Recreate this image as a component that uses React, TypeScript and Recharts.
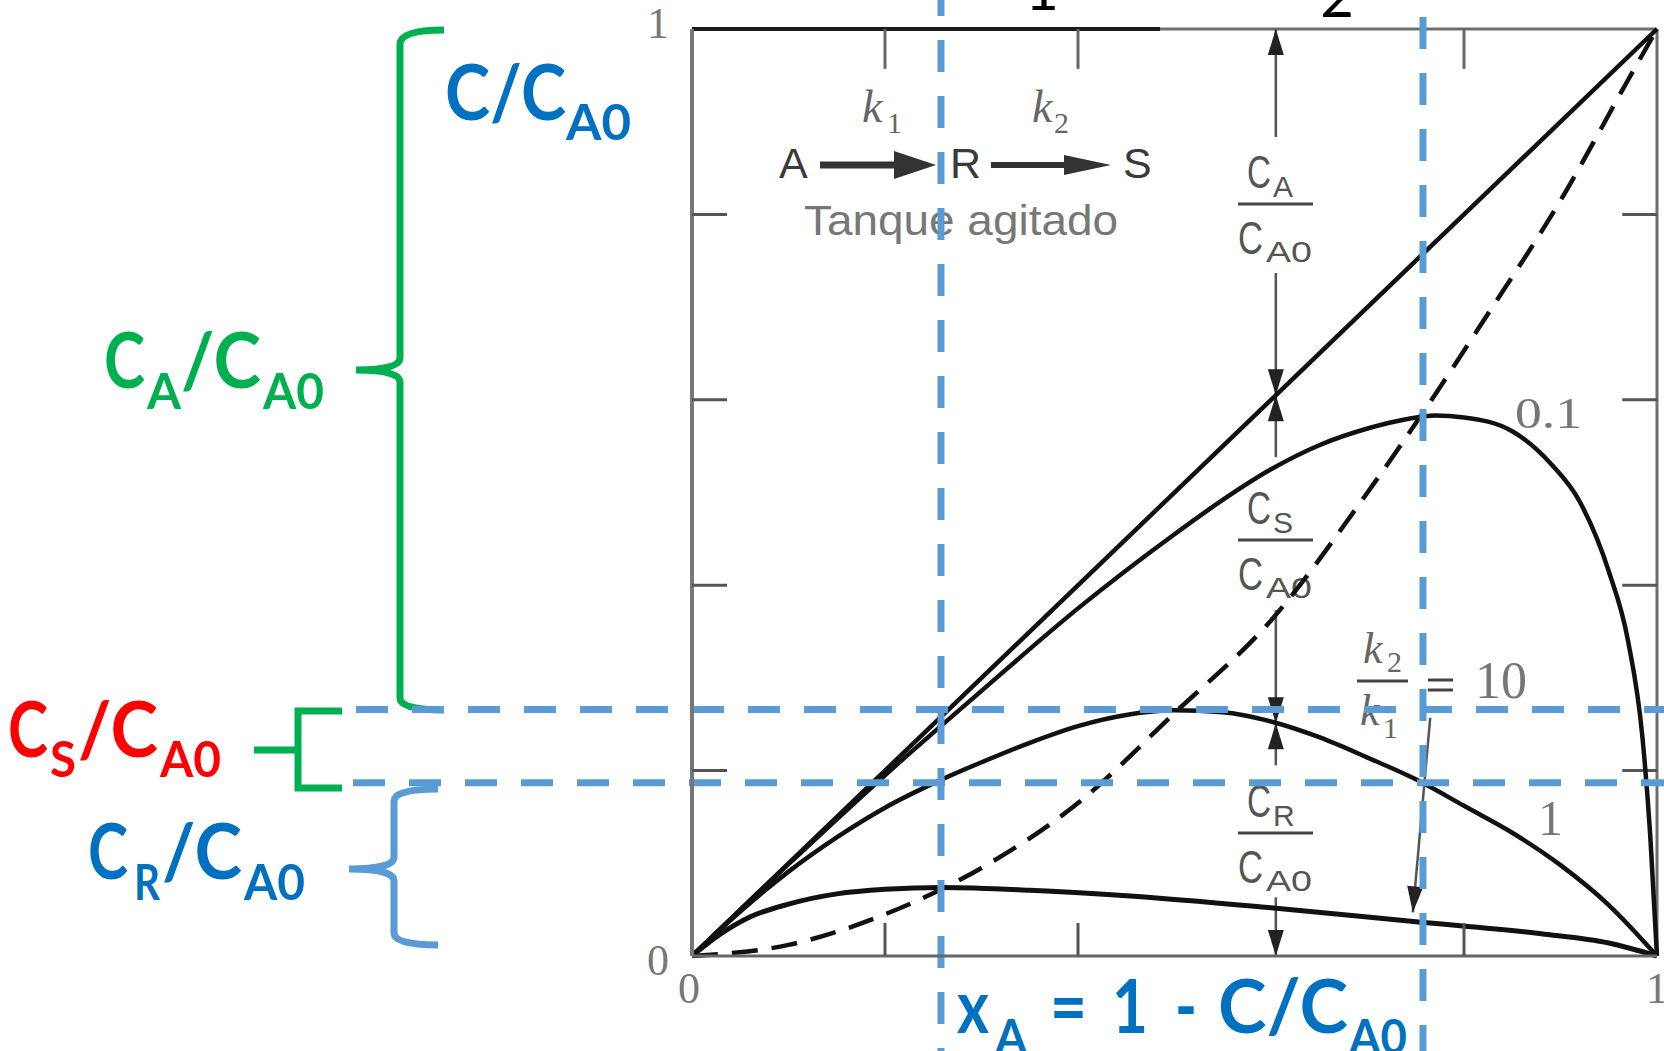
import React from "react";
import { LineChart, Line, XAxis, YAxis, ReferenceLine } from "recharts";

const W = 1664;
const H = 1051;

// Conversion X_A (x) against dimensionless concentration C/C_A0 (y)
const diagonalX = [0, 1];
const diagonalY = [0, 1];

// C_R/C_A0 for k2/k1 = 0.1
const ratio01X = [0, 0.1, 0.2, 0.3, 0.4, 0.5, 0.55, 0.6, 0.65, 0.7, 0.74, 0.77, 0.8, 0.85, 0.89, 0.92, 0.95, 0.97, 0.985, 0.993, 1];
const ratio01Y = [0, 0.099, 0.195, 0.286, 0.375, 0.455, 0.492, 0.525, 0.551, 0.569, 0.579, 0.583, 0.581, 0.566, 0.531, 0.49, 0.415, 0.34, 0.235, 0.13, 0];

// C_R/C_A0 for k2/k1 = 1
const ratio1X = [0, 0.05, 0.1, 0.15, 0.2, 0.258, 0.3, 0.35, 0.4, 0.45, 0.5, 0.55, 0.6, 0.65, 0.7, 0.757, 0.8, 0.85, 0.9, 0.95, 1];
const ratio1Y = [0, 0.048, 0.091, 0.128, 0.16, 0.19, 0.209, 0.23, 0.248, 0.26, 0.265, 0.263, 0.253, 0.236, 0.214, 0.187, 0.162, 0.133, 0.098, 0.055, 0];

// C_R/C_A0 for k2/k1 = 10
const ratio10X = [0, 0.03, 0.06, 0.1, 0.15, 0.2, 0.26, 0.35, 0.45, 0.6, 0.75, 0.88, 0.95, 1];
const ratio10Y = [0, 0.024, 0.042, 0.056, 0.067, 0.072, 0.074, 0.071, 0.065, 0.052, 0.037, 0.024, 0.014, 0];

// locus of the maxima (dashed)
const optimumX = [0, 0.1, 0.2, 0.3, 0.4, 0.5, 0.6, 0.7, 0.76, 0.82, 0.9, 0.97, 1];
const optimumY = [0, 0.012, 0.045, 0.095, 0.165, 0.262, 0.362, 0.5, 0.59, 0.685, 0.815, 0.945, 1];

const leftTicks = [0, 0.2, 0.4, 0.6, 0.8, 1];
const bottomTicks = [0, 0.2, 0.4, 0.8, 1];
const topTicks = [0.2, 0.4, 0.8];
const rightTicks = [0.2, 0.4, 0.6, 0.8];

// blue guide lines
const guideXs = [0.258, 0.7575];
const guideYs = [0.266, 0.187];

// dimension marks at X_A = 0.605: top, diagonal, k2/k1 = 1 curve, axis
const dimX = 0.605;
const dimLevels = [1, 0.605, 0.251, 0];

// pointer from the k2/k1 = 10 label to its curve
const pointerFrom = { x: 0.765, y: 0.257 };
const pointerTo = { x: 0.747, y: 0.047 };

const toPoints = (xs: number[], ys: number[]) => xs.map((x, i) => ({ x, y: ys[i] }));

const GRAY = "#6e6e6e";
const INK = "#111";
const GUIDE = "#5B9BD5";
const BLUE = "#0070C0";
const GREEN = "#00B050";
const RED = "#FF0000";

const serif = "'Liberation Serif', 'DejaVu Serif', serif";
const sans = "'Liberation Sans', Arial, sans-serif";
const bold = "Lato, 'Open Sans', sans-serif";

const LeftTick = (props: any) => {
  const { x, y, payload } = props;
  const v = payload.value;
  if (v === 0 || v === 1) {
    return (
      <text x={x - 34} y={v === 0 ? y + 19 : y + 9} textAnchor="middle" fontFamily={serif} fontSize={44} fill="#777">
        {v === 0 ? "0" : "1"}
      </text>
    );
  }
  return <line x1={x} y1={y} x2={x + 35} y2={y} stroke="#555" strokeWidth={3} />;
};

const BottomTick = (props: any) => {
  const { x, y, payload } = props;
  const v = payload.value;
  if (v === 0 || v === 1) {
    return (
      <text x={v === 0 ? x - 3 : x} y={y + 47} textAnchor="middle" fontFamily={serif} fontSize={44} fill="#777">
        {v === 0 ? "0" : "1"}
      </text>
    );
  }
  return <line x1={x} y1={y} x2={x} y2={y - 33} stroke="#555" strokeWidth={3} />;
};

const headPath = (tx: number, ty: number, dx: number, dy: number, len = 26, half = 8) => {
  const bx = tx - dx * len;
  const by = ty - dy * len;
  const nx = -dy * half;
  const ny = dx * half;
  return `M${tx},${ty} L${bx + nx},${by + ny} L${bx - nx},${by - ny} Z`;
};

// a gray dimension line with arrowheads and an optional break for its label
const dimShape = (gapStart: number, gapEnd: number, headA: boolean, headB: boolean) => (p: any) => {
  const { x1, y1, x2, y2 } = p;
  const len = Math.hypot(x2 - x1, y2 - y1) || 1;
  const ux = (x2 - x1) / len;
  const uy = (y2 - y1) / len;
  const at = (d: number) => ({ x: x1 + ux * d, y: y1 + uy * d });
  const parts: Array<[number, number]> =
    gapEnd > gapStart ? [[0, gapStart], [gapEnd, len]] : [[0, len]];
  return (
    <g>
      {parts.map(([a, b], i) => {
        const s = at(a);
        const e = at(b);
        return <line key={i} x1={s.x} y1={s.y} x2={e.x} y2={e.y} stroke="#555" strokeWidth={2.5} />;
      })}
      {headA && <path d={headPath(x1, y1, -ux, -uy)} fill="#222" />}
      {headB && <path d={headPath(x2, y2, ux, uy)} fill="#222" />}
    </g>
  );
};

const vGuide = (startY: number) => (p: any) => (
  <line x1={p.x1} x2={p.x1} y1={startY} y2={H} stroke={GUIDE} strokeWidth={7} strokeDasharray="32 24" />
);
const hGuide = (startX: number) => (p: any) => (
  <line x1={startX} x2={W} y1={p.y1} y2={p.y1} stroke={GUIDE} strokeWidth={7} strokeDasharray="32 24" />
);

// gray C_i / C_A0 fraction label
const Frac = ({ bar, sub }: { bar: number; sub: string }) => (
  <g fill="#555" fontFamily={sans}>
    <text x={1247} y={bar - 16} fontSize={46}>
      <tspan textLength={24} lengthAdjust="spacingAndGlyphs">C</tspan>
      <tspan x={1273} dy={9} fontSize={30}>{sub}</tspan>
    </text>
    <line x1={1238} x2={1313} y1={bar} y2={bar} stroke="#444" strokeWidth={3} />
    <text x={1238} y={bar + 50} fontSize={46}>
      <tspan textLength={25} lengthAdjust="spacingAndGlyphs">C</tspan>
      <tspan x={1266} dy={8} fontSize={30} textLength={46} lengthAdjust="spacingAndGlyphs">A0</tspan>
    </text>
  </g>
);

// bold coloured label with subscripts; parts are [text, x, isSub, width]
const Label = ({ parts, y, fill, size, subSize, subDrop }: any) => (
  <text y={y} fill={fill} fontFamily={bold} fontWeight={700} fontSize={size}>
    {parts.map(([t, x, sub, w]: [string, number, boolean, number], i: number) => {
      const prevSub = i > 0 && parts[i - 1][2];
      const dy = sub && !prevSub ? subDrop : !sub && prevSub ? -subDrop : 0;
      return (
        <tspan key={i} x={x} dy={dy} fontSize={sub ? subSize : size} textLength={w} lengthAdjust="spacingAndGlyphs">
          {t}
        </tspan>
      );
    })}
  </text>
);

const Annotations = () => (
  <svg width={W} height={H} style={{ position: "absolute", left: 0, top: 0 }}>
    {/* left-hand labels and braces */}
    <Label y={120} fill={BLUE} size={77} subSize={49} subDrop={20} parts={[["C/C", 445, false, 121], ["A0", 566, true, 65]]} />
    <Label
      y={388}
      fill={GREEN}
      size={77}
      subSize={49}
      subDrop={21}
      parts={[["C", 104, false, 41], ["A", 147, true, 34], ["/C", 181, false, 80], ["A0", 263, true, 61]]}
    />
    <Label
      y={757}
      fill={RED}
      size={77}
      subSize={49}
      subDrop={20}
      parts={[["C", 8, false, 40], ["S", 50, true, 26], ["/C", 78, false, 80], ["A0", 160, true, 61]]}
    />
    <Label
      y={879}
      fill={BLUE}
      size={77}
      subSize={49}
      subDrop={21}
      parts={[["C", 88, false, 40], ["R", 134, true, 26], ["/C", 162, false, 80], ["A0", 244, true, 61]]}
    />
    {/* axis title below the plot */}
    <Label
      y={1033}
      fill={BLUE}
      size={74}
      subSize={48}
      subDrop={21}
      parts={[
        ["x", 957, false, 32],
        ["A", 995, true, 32],
        ["=", 1050, false, 37],
        ["1", 1112, false, 36],
        ["-", 1175, false, 22],
        ["C/C", 1218, false, 130],
        ["A0", 1349, true, 58],
      ]}
    />
    <g fill="none" strokeWidth={7}>
      <path
        d="M444 30 Q400 30 400 44 L400 358 Q400 370 356 370 M356 370 Q400 370 400 382 L400 698 Q400 710 444 710"
        stroke={GREEN}
      />
      <path d="M342 711 L298 711 L298 788 L342 788 M254 750 L298 750" stroke={GREEN} />
      <path
        d="M438 789 Q394 789 394 801 L394 857 Q394 869 349 869 M349 869 Q394 869 394 881 L394 933 Q394 945 438 945"
        stroke={GUIDE}
      />
    </g>

    {/* numbering above the frame */}
    <text x={1042} y={10} textAnchor="middle" fontFamily={bold} fontSize={58} fill="#000">1</text>
    <text x={1337} y={17} textAnchor="middle" fontFamily={bold} fontSize={58} fill="#000">2</text>

    {/* reaction scheme */}
    <g fill="#666" fontFamily={serif}>
      <text x={862} y={122} fontStyle="italic" fontSize={46}>
        k<tspan x={887} dy={11} fontStyle="normal" fontSize={30}>1</tspan>
      </text>
      <text x={1032} y={122} fontStyle="italic" fontSize={46}>
        k<tspan x={1054} dy={11} fontStyle="normal" fontSize={30}>2</tspan>
      </text>
    </g>
    <g fill="#3a3a3a" fontFamily={sans} fontSize={43}>
      <text x={779} y={178}>A</text>
      <text x={950} y={178}>R</text>
      <text x={1123} y={178}>S</text>
    </g>
    <g fill="#333" stroke="#333">
      <line x1={820} y1={165} x2={900} y2={165} strokeWidth={7} />
      <path d="M894 151 L936 165 L894 179 Z" stroke="none" />
      <line x1={991} y1={165} x2={1070} y2={165} strokeWidth={6} />
      <path d="M1064 155 L1111 165 L1064 175 Z" stroke="none" />
    </g>
    <text x={804} y={235} fontFamily={sans} fontSize={42} fill="#777" textLength={314} lengthAdjust="spacingAndGlyphs">
      Tanque agitado
    </text>

    {/* fraction labels along the dimension line */}
    <Frac bar={204} sub="A" />
    <Frac bar={540} sub="S" />
    <Frac bar={833} sub="R" />

    {/* curve labels */}
    <text x={1515} y={428} fontFamily={serif} fontSize={44} fill="#777" textLength={67} lengthAdjust="spacingAndGlyphs">0.1</text>
    <text x={1538} y={835} fontFamily={serif} fontSize={50} fill="#777">1</text>
    <g fill="#666" fontFamily={serif}>
      <text x={1363} y={663} fontStyle="italic" fontSize={44}>
        k<tspan x={1387} dy={9} fontStyle="normal" fontSize={30}>2</tspan>
      </text>
      <line x1={1357} x2={1408} y1={681} y2={681} stroke="#444" strokeWidth={3} />
      <text x={1360} y={725} fontStyle="italic" fontSize={44}>
        k<tspan x={1383} dy={13} fontStyle="normal" fontSize={30}>1</tspan>
      </text>
      <line x1={1428} x2={1453} y1={680} y2={680} stroke="#444" strokeWidth={3} />
      <line x1={1428} x2={1453} y1={690} y2={690} stroke="#444" strokeWidth={3} />
      <text x={1475} y={698} fontSize={52} fill="#777">10</text>
    </g>
  </svg>
);

export default function App() {
  const diag = toPoints(diagonalX, diagonalY);
  const c01 = toPoints(ratio01X, ratio01Y);
  const c1 = toPoints(ratio1X, ratio1Y);
  const c10 = toPoints(ratio10X, ratio10Y);
  const opt = toPoints(optimumX, optimumY);

  const dimGaps: Array<[number, number]> = [
    [108, 244],
    [62, 215],
    [42, 174],
  ];

  return (
    <div style={{ position: "absolute", left: 0, top: 0, width: W, height: H, background: "#fff" }}>
      <Annotations />
      <div style={{ position: "absolute", left: 0, top: 0 }}>
        <LineChart width={W} height={H} margin={{ top: 29, right: 7, bottom: 0, left: 0 }}>
          <XAxis
            type="number"
            dataKey="x"
            domain={[0, 1]}
            ticks={bottomTicks}
            interval={0}
            height={95}
            tickSize={0}
            tickMargin={0}
            tickLine={false}
            axisLine={{ stroke: "#666", strokeWidth: 3 }}
            tick={BottomTick}
          />
          <YAxis
            type="number"
            domain={[0, 1]}
            ticks={leftTicks}
            interval={0}
            width={692}
            tickSize={0}
            tickMargin={0}
            tickLine={false}
            axisLine={{ stroke: "#777", strokeWidth: 4 }}
            tick={LeftTick}
          />

          {/* frame: top and right borders with inner ticks */}
          <ReferenceLine y={1} stroke={GRAY} strokeWidth={3} />
          <ReferenceLine x={1} stroke={GRAY} strokeWidth={3} />
          <ReferenceLine segment={[{ x: 0, y: 1 }, { x: 0.485, y: 1 }]} stroke="#1a1a1a" strokeWidth={4} />
          {topTicks.map((t) => (
            <ReferenceLine key={`t${t}`} segment={[{ x: t, y: 1 }, { x: t, y: 0.957 }]} stroke="#666" strokeWidth={3} />
          ))}
          {rightTicks.map((t) => (
            <ReferenceLine key={`r${t}`} segment={[{ x: 1, y: t }, { x: 0.964, y: t }]} stroke="#555" strokeWidth={3} />
          ))}

          {/* dimension lines */}
          {dimGaps.map(([a, b], i) => (
            <ReferenceLine
              key={`d${i}`}
              segment={[{ x: dimX, y: dimLevels[i] }, { x: dimX, y: dimLevels[i + 1] }]}
              shape={dimShape(a, b, true, true)}
            />
          ))}
          <ReferenceLine segment={[pointerFrom, pointerTo]} shape={dimShape(0, 0, false, true)} />

          <Line data={diag} dataKey="y" type="linear" stroke={INK} strokeWidth={4.5} dot={false} isAnimationActive={false} />
          <Line data={c01} dataKey="y" type="monotone" stroke={INK} strokeWidth={4.5} dot={false} isAnimationActive={false} />
          <Line data={c1} dataKey="y" type="monotone" stroke={INK} strokeWidth={4.5} dot={false} isAnimationActive={false} />
          <Line data={c10} dataKey="y" type="monotone" stroke={INK} strokeWidth={5} dot={false} isAnimationActive={false} />
          <Line
            data={opt}
            dataKey="y"
            type="monotone"
            stroke={INK}
            strokeWidth={4.5}
            strokeDasharray="26 14"
            dot={false}
            isAnimationActive={false}
          />

          {/* blue guide lines */}
          <ReferenceLine x={guideXs[0]} ifOverflow="visible" shape={vGuide(-16)} />
          <ReferenceLine x={guideXs[1]} ifOverflow="visible" shape={vGuide(-39)} />
          <ReferenceLine y={guideYs[0]} ifOverflow="visible" shape={hGuide(356)} />
          <ReferenceLine y={guideYs[1]} ifOverflow="visible" shape={hGuide(353)} />
        </LineChart>
      </div>
    </div>
  );
}
